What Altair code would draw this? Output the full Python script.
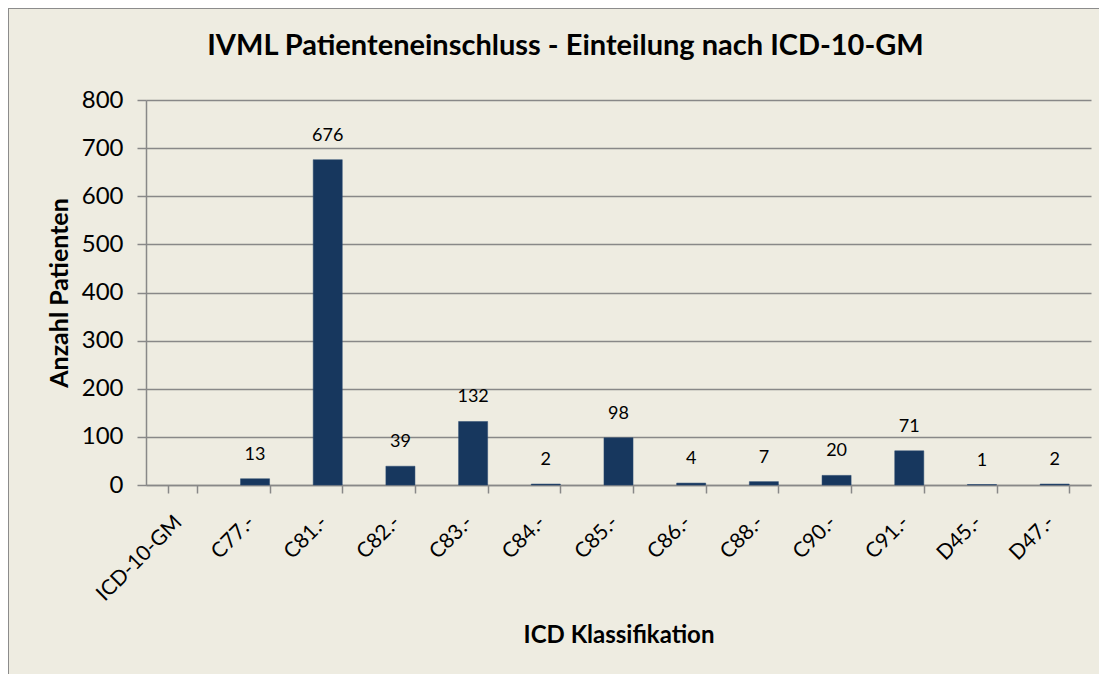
import altair as alt
import pandas as pd

categories = ["ICD-10-GM", "C77.-", "C81.-", "C82.-", "C83.-", "C84.-", "C85.-",
              "C86.-", "C88.-", "C90.-", "C91.-", "D45.-", "D47.-"]
values = [None, 13, 676, 39, 132, 2, 98, 4, 7, 20, 71, 1, 2]

df = pd.DataFrame({"cat": categories, "val": values})
FONT = "Lato"
GRAY = "#888888"

x_enc = alt.X("cat:N", sort=categories,
              scale=alt.Scale(paddingInner=0.6, paddingOuter=0.3),
              axis=alt.Axis(title="ICD Klassifikation", labelAngle=-45, labelAlign="right",
                            labelBaseline="middle", labelFontSize=21, labelColor="#000",
                            labelPadding=26, labelOffset=-4, tickBand="extent", tickSize=8,
                            tickColor=GRAY, tickWidth=1.5, domainWidth=1.5,
                            domainColor=GRAY, titleFontSize=24, titleFontWeight="bold",
                            titleColor="#000", titleY=150, titleBaseline="middle",
                            titleFont=FONT, labelFont=FONT))
y_enc = alt.Y("val:Q", scale=alt.Scale(domain=[0, 800]),
              axis=alt.Axis(title="Anzahl Patienten", values=list(range(0, 801, 100)),
                            labelFontSize=24, labelColor="#000", labelPadding=14,
                            tickSize=9, tickColor=GRAY, tickWidth=1.5, domainColor=GRAY,
                            domainWidth=1.5, gridColor=GRAY, gridWidth=1.5,
                            titleFontSize=25, titleFontWeight="bold",
                            titleColor="#000", titleX=-87, titleBaseline="middle",
                            titleFont=FONT, labelFont=FONT))

bars = alt.Chart(df).mark_bar(color="#17375E", stroke="#2a4a70", strokeWidth=0.5).encode(
    x=x_enc, y=y_enc)
labels = alt.Chart(df).mark_text(baseline="bottom", dy=-15, fontSize=18, font=FONT,
                                 color="#000").encode(
    x=x_enc, y=y_enc, text="val:Q")
border_top = alt.Chart(df).mark_rule(stroke="#8c8c8c", strokeWidth=2).encode(
    x=alt.value(-138), x2=alt.value(953), y=alt.value(-92))
border_left = alt.Chart(df).mark_rule(stroke="#8c8c8c", strokeWidth=2).encode(
    x=alt.value(-138), y=alt.value(-92), y2=alt.value(574))

chart = alt.layer(border_top, border_left, bars, labels).properties(
    width=945, height=385,
    title=alt.TitleParams("IVML Patienteneinschluss - Einteilung nach ICD-10-GM",
                          fontSize=29, fontWeight="bold", font=FONT, color="#000",
                          anchor="middle", frame="group", baseline="alphabetic",
                          offset=-77, dx=-53),
    background="#EEECE1",
    padding={"left": 138, "top": 92, "right": 8, "bottom": 189},
    autosize=alt.AutoSizeParams(type="none"),
).configure_view(stroke=None)

chart.save("out.html", embed_options={"renderer": "svg", "actions": False})
